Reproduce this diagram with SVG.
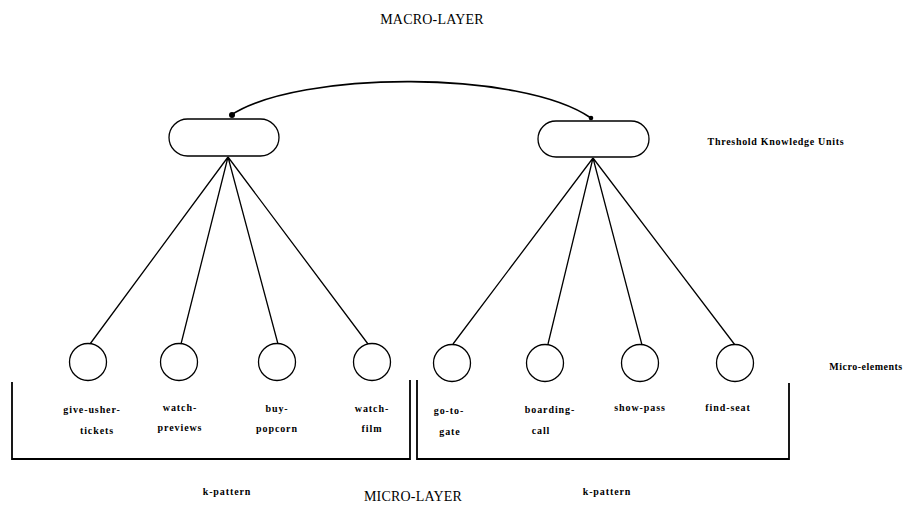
<svg xmlns="http://www.w3.org/2000/svg" width="903" height="505" viewBox="0 0 903 505">
<style>
.bg{fill:#fff}
.ln{stroke:#000;stroke-width:1.3;fill:none}
.br{stroke:#000;stroke-width:1.8;fill:none}
.nd{stroke:#000;stroke-width:1.3;fill:#fff}
.t{font-family:"Liberation Serif","Times New Roman",serif;font-weight:bold;font-size:10px;letter-spacing:0.9px;fill:#000;text-anchor:middle}
.h{font-family:"Liberation Serif","Times New Roman",serif;font-size:14px;letter-spacing:0.2px;fill:#000;text-anchor:middle}
</style>
<rect class="bg" width="903" height="505"/>
<text class="h" x="432" y="24">MACRO-LAYER</text>
<text class="h" x="413" y="501">MICRO-LAYER</text>
<text class="t" x="776" y="145" style="letter-spacing:0.7px">Threshold Knowledge Units</text>
<text class="t" x="866" y="370" style="letter-spacing:0.5px">Micro-elements</text>
<text class="t" x="227" y="495">k-pattern</text>
<text class="t" x="607" y="495">k-pattern</text>
<g id="connectors">
<path class="ln" d="M231,115 C300,70 522,70 591,118" style="stroke-width:1.6"/>
<circle cx="232" cy="115" r="3" fill="#000"/>
<circle cx="591" cy="118" r="2.3" fill="#000"/>
<path class="ln" d="M228,157 L90,344 M228,157 L181,344 M228,157 L278,344 M228,157 L368,344"/>
<path class="ln" d="M593,158 L453,344 M593,158 L548,344 M593,158 L642,345 M593,158 L735,345"/>
<path class="br" d="M12,382 V459 H410 V380"/>
<path class="br" d="M417,380 V459 H789 V383"/>
</g>
<g id="tku-cinema"><rect class="nd" x="169" y="119" width="110" height="37" rx="18.5"/></g>
<g id="tku-airport"><rect class="nd" x="538" y="121" width="111" height="36" rx="18"/></g>
<g id="give-usher-tickets"><circle class="nd" cx="88" cy="362" r="18.5"/><text class="t" x="92" y="413">give-usher-</text><text class="t" x="97" y="434">tickets</text></g>
<g id="watch-previews"><circle class="nd" cx="179" cy="362" r="18.5"/><text class="t" x="180" y="411">watch-</text><text class="t" x="180" y="431">previews</text></g>
<g id="buy-popcorn"><circle class="nd" cx="277" cy="362" r="18.5"/><text class="t" x="277" y="412">buy-</text><text class="t" x="277" y="432">popcorn</text></g>
<g id="watch-film"><circle class="nd" cx="372" cy="362" r="18.5"/><text class="t" x="372" y="412">watch-</text><text class="t" x="372" y="432">film</text></g>
<g id="go-to-gate"><circle class="nd" cx="452" cy="363" r="18.5"/><text class="t" x="449" y="414">go-to-</text><text class="t" x="450" y="435">gate</text></g>
<g id="boarding-call"><circle class="nd" cx="545" cy="363" r="18.5"/><text class="t" x="550" y="413">boarding-</text><text class="t" x="541" y="434">call</text></g>
<g id="show-pass"><circle class="nd" cx="640" cy="363" r="18.5"/><text class="t" x="640" y="411">show-pass</text></g>
<g id="find-seat"><circle class="nd" cx="735" cy="363" r="18.5"/><text class="t" x="728" y="411">find-seat</text></g>
</svg>
